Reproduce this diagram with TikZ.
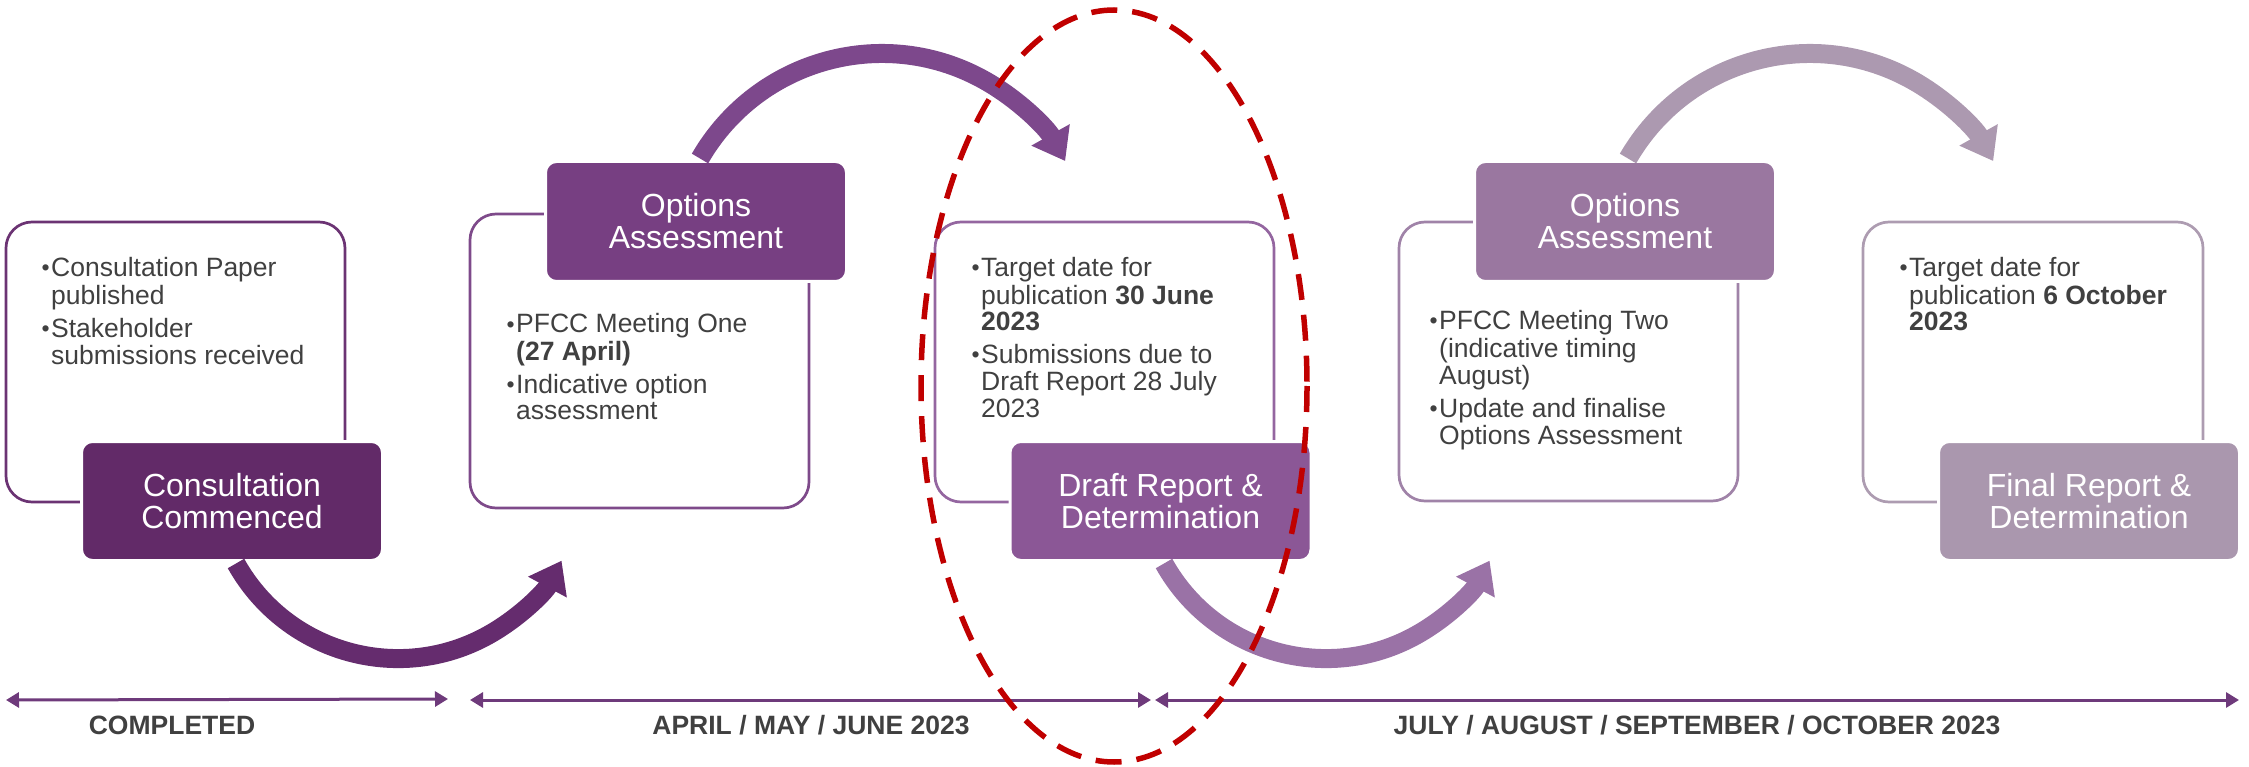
\documentclass[tikz,border=0pt]{standalone}
\usepackage{fontspec}
\setmainfont{Liberation Sans}
\usetikzlibrary{arrows.meta,calc}
\definecolor{txtgray}{HTML}{404040}
\definecolor{fA}{HTML}{622A68}
\definecolor{fB}{HTML}{773F82}
\definecolor{fC}{HTML}{8B5796}
\definecolor{fD}{HTML}{9A77A0}
\definecolor{fE}{HTML}{AA97AE}
\definecolor{oA}{HTML}{6B3373}
\definecolor{oB}{HTML}{7E4A8A}
\definecolor{oC}{HTML}{9466A0}
\definecolor{oD}{HTML}{A083A8}
\definecolor{oE}{HTML}{AD9CB1}
\definecolor{aA}{HTML}{652C6E}
\definecolor{aB}{HTML}{7D488C}
\definecolor{aC}{HTML}{9A72A6}
\definecolor{aD}{HTML}{AC99B0}
\definecolor{tlc}{HTML}{6E3A7B}
\definecolor{hlred}{HTML}{C00000}
\newcommand{\bu}{\makebox[10pt][l]{\hspace{0.5pt}\raisebox{1pt}{\fontsize{23}{23}\selectfont •}}}
\begin{document}
\begin{tikzpicture}[x=1pt,y=-1pt,
  outbox/.style={draw, line width=2.7pt, rounded corners=26pt, inner sep=0pt, minimum width=339pt},
  fillbox/.style={draw=white, line width=3pt, rounded corners=11pt, text=white, align=center,
    font=\fontsize{32}{32}\selectfont, inner sep=0pt, minimum width=301pt},
  body/.style={anchor=base west, inner sep=0pt, text=txtgray, font=\fontsize{26.5}{26.5}\selectfont},
  curved/.style={line width=19pt, -{Triangle[width=42pt,length=30pt]}},
  tline/.style={line width=3pt, draw=tlc, {Triangle[width=15pt,length=13pt]}-{Triangle[width=15pt,length=13pt]}},
  tlabel/.style={anchor=base, inner sep=0pt, text=txtgray, font=\bfseries\fontsize{26.5}{26.5}\selectfont},
  redring/.style={draw=hlred, line width=5.5pt, dash pattern=on 26pt off 15pt}
]
\useasboundingbox (0,0) rectangle (2249,767);

% outline boxes
\node[outbox, draw=oA, minimum height=280pt] (o1) at (175.5,362) {};
\node[outbox, draw=oB, minimum height=294pt] (o2) at (639.5,361) {};
\node[outbox, draw=oC, minimum height=280pt] (o3) at (1104.5,362) {};
\node[outbox, draw=oD, minimum height=279pt] (o4) at (1568.5,361.5) {};
\node[outbox, draw=oE, minimum height=280pt, minimum width=340pt] (o5) at (2033,362) {};

% bullet texts
\node[body] (t1) at (41,277) {\begin{tabular}[t]{@{}l@{}l@{}}
\bu&Consultation Paper\\ &published\\[6pt]
\bu&Stakeholder\\ &submissions received\end{tabular}};
\node[body] (t2) at (506,333) {\begin{tabular}[t]{@{}l@{}l@{}}
\bu&PFCC Meeting One\\ &\textbf{(27 April)}\\[6pt]
\bu&Indicative option\\ &assessment\end{tabular}};
\node[body] (t3) at (971,277) {\begin{tabular}[t]{@{}l@{}l@{}}
\bu&Target date for\\ &publication \textbf{30 June}\\ &\textbf{2023}\\[6pt]
\bu&Submissions due to\\ &Draft Report 28 July\\ &2023\end{tabular}};
\node[body] (t4) at (1429,330) {\begin{tabular}[t]{@{}l@{}l@{}}
\bu&PFCC Meeting Two\\ &(indicative timing\\ &August)\\[6pt]
\bu&Update and finalise\\ &Options Assessment\end{tabular}};
\node[body] (t5) at (1899,277) {\begin{tabular}[t]{@{}l@{}l@{}}
\bu&Target date for\\ &publication \textbf{6 October}\\ &\textbf{2023}\end{tabular}};

% filled title boxes
\node[fillbox, fill=fA, minimum height=119pt] (f1) at (232,501) {Consultation\\Commenced};
\node[fillbox, fill=fB, minimum height=120pt] (f2) at (696,221.5) {Options\\Assessment};
\node[fillbox, fill=fC, minimum height=119pt] (f3) at (1160.5,501) {Draft Report \&\\Determination};
\node[fillbox, fill=fD, minimum height=120pt] (f4) at (1625,221.5) {Options\\Assessment};
\node[fillbox, fill=fE, minimum height=119pt] (f5) at (2089,501) {Final Report \&\\Determination};

% curved arrows
\draw[curved, draw=aA] ($(f1.south)+(4,1.5)$) arc[start angle=150.8, end angle=28.2, radius=185.6];
\draw[curved, draw=aB] ($(f2.north)+(4,-1.5)$) arc[start angle=210, end angle=330.8, radius=210];
\draw[curved, draw=aC] ($(f3.south)+(3.5,1.5)$) arc[start angle=150.8, end angle=28.2, radius=185.6];
\draw[curved, draw=aD] ($(f4.north)+(3,-1.5)$) arc[start angle=210, end angle=330.8, radius=210];

% timeline
\coordinate (L1a) at (6,700);
\coordinate (L1b) at (448,699);
\coordinate (L2a) at (470,700);
\coordinate (L2b) at (1151,700);
\coordinate (L3a) at (1155,700);
\coordinate (L3b) at (2239,700);
\draw[tline] (L1a) -- (L1b);
\draw[tline] (L2a) -- (L2b);
\draw[tline] (L3a) -- (L3b);
\node[tlabel] (lab1) at (172,734) {COMPLETED};
\node[tlabel] (lab2) at (811,734) {APRIL / MAY / JUNE 2023};
\node[tlabel] (lab3) at (1697,734) {JULY / AUGUST / SEPTEMBER / OCTOBER 2023};

% red dashed highlight
\draw[redring] (1114,386) ellipse[x radius=193, y radius=376];
\end{tikzpicture}
\end{document}
